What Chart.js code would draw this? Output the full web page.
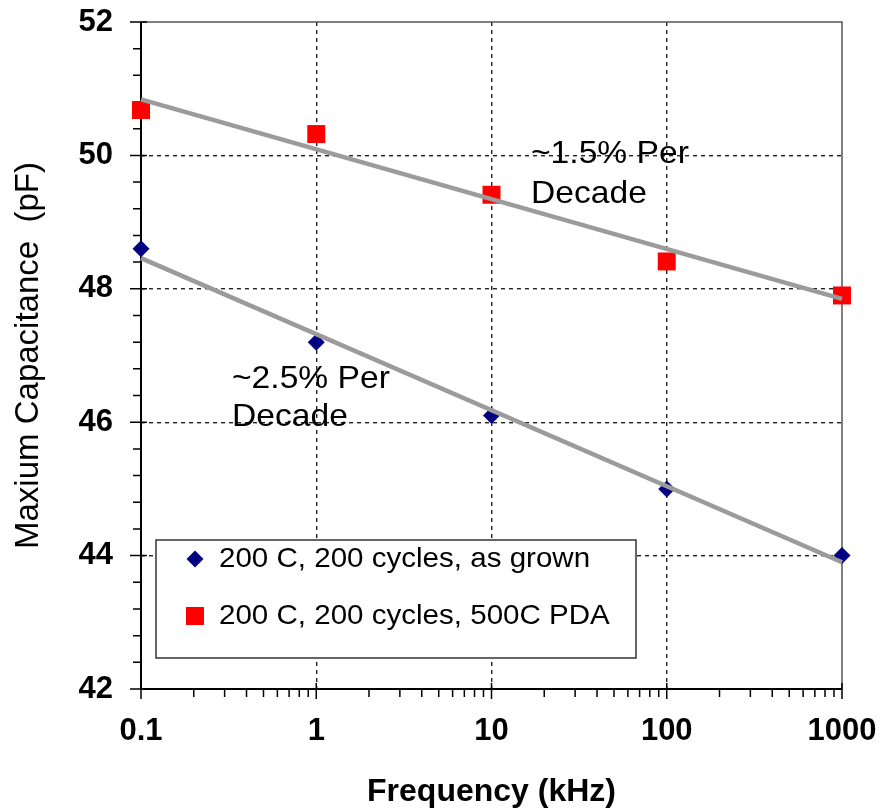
<!DOCTYPE html>
<html>
<head>
<meta charset="utf-8">
<title>Maximum capacitance vs frequency</title>
<script src="https://cdn.jsdelivr.net/npm/chart.js@4.4.1/dist/chart.umd.min.js"></script>
<style>
  html, body { margin: 0; padding: 0; background: #ffffff; }
  canvas { display: block; }
</style>
</head>
<body>
<canvas id="cap" width="881" height="811"></canvas>
<script>
// Measured maximum capacitance (pF) at each test frequency (kHz)
const frequencies = [0.1, 1, 10, 100, 1000];
const asGrown = [48.6, 47.2, 46.1, 45.0, 44.0];
const pda500 = [50.68, 50.32, 49.41, 48.41, 47.9];

// Straight-line fits (linear in log frequency), end points at the axis limits
const fitFreqs = [0.1, 1000];
const asGrownFit = [48.46, 43.9];
const pda500Fit = [50.84, 47.85];

const xTickLabels = [0.1, 1, 10, 100, 1000];
const yTickLabels = [42, 44, 46, 48, 50, 52];
const seriesNames = ['200 C, 200 cycles, as grown', '200 C, 200 cycles, 500C PDA'];
const slopeNotes = [['~1.5% Per', 'Decade'], ['~2.5% Per', 'Decade']];

const FONT = '"Liberation Sans", Arial, Helvetica, sans-serif';

// Layout of the hand-drawn legend box and the slope notes (canvas pixels)
const legendLayout = { left: 156, top: 540, right: 636, bottom: 658, markerX: 195, textX: 219, rows: [559, 616], size: 28, stretch: 1.055 };
const noteLayout = { size: 32, stretch: 1.05, items: [
  { x: 531, baselines: [163, 203] },
  { x: 232, baselines: [388, 426] }
] };

const isLabelled = (list, v) => list.some(l => Math.abs(l - v) < 1e-9);

const toPoints = (xs, ys) => xs.map((x, i) => ({ x, y: ys[i] }));

// Edge labels may overhang the plot; the outer layout padding leaves room for them
function noEdgePadding(scale) {
  scale.paddingTop = 0;
  scale.paddingBottom = 0;
  scale.paddingLeft = 0;
  scale.paddingRight = 0;
}

// Axis frame, tick marks
const framePlugin = {
  id: 'frame',
  beforeDatasetsDraw(chart) {
    const { ctx, chartArea: a, scales } = chart;
    const xs = scales.x, ys = scales.y;
    ctx.save();
    ctx.lineCap = 'butt';
    // top and right edges of the plot frame
    ctx.strokeStyle = '#555555';
    ctx.lineWidth = 1.5;
    ctx.beginPath();
    ctx.moveTo(a.left, a.top);
    ctx.lineTo(a.right, a.top);
    ctx.lineTo(a.right, a.bottom);
    ctx.stroke();
    // tick marks
    ctx.strokeStyle = '#000000';
    ctx.lineWidth = 1.5;
    ctx.beginPath();
    xs.ticks.forEach(t => {
      const px = xs.getPixelForValue(t.value);
      const major = isLabelled(xTickLabels, t.value);
      ctx.moveTo(px, a.bottom - (major ? 6 : 0));
      ctx.lineTo(px, a.bottom + (major ? 10 : 8));
    });
    ys.ticks.forEach(t => {
      const py = ys.getPixelForValue(t.value);
      const major = isLabelled(yTickLabels, t.value);
      ctx.moveTo(a.left + (major ? 6 : 0), py);
      ctx.lineTo(a.left - (major ? 11 : 8), py);
    });
    ctx.stroke();
    // left and bottom axis lines
    ctx.lineWidth = 2;
    ctx.beginPath();
    ctx.moveTo(a.left, a.top);
    ctx.lineTo(a.left, a.bottom);
    ctx.lineTo(a.right, a.bottom);
    ctx.stroke();
    ctx.restore();
  }
};

function drawMarker(ctx, style, radius, x, y) {
  ctx.beginPath();
  if (style === 'rect') {
    const h = radius * Math.SQRT1_2;
    ctx.rect(x - h, y - h, 2 * h, 2 * h);
  } else {
    ctx.moveTo(x - radius, y);
    ctx.lineTo(x, y - radius);
    ctx.lineTo(x + radius, y);
    ctx.lineTo(x, y + radius);
    ctx.closePath();
  }
  ctx.fill();
}

// Text drawn slightly widened horizontally from its left edge
function wideText(ctx, s, x, y, sx) {
  ctx.save();
  ctx.translate(x, y);
  ctx.scale(sx, 1);
  ctx.fillText(s, 0, 0);
  ctx.restore();
}

// Legend box and slope notes
const notesPlugin = {
  id: 'notes',
  afterDatasetsDraw(chart) {
    const { ctx } = chart;
    const L = legendLayout;
    ctx.save();
    ctx.fillStyle = '#ffffff';
    ctx.fillRect(L.left, L.top, L.right - L.left, L.bottom - L.top);
    ctx.strokeStyle = '#333333';
    ctx.lineWidth = 1.5;
    ctx.strokeRect(L.left, L.top, L.right - L.left, L.bottom - L.top);

    const marked = chart.data.datasets.filter(d => d.showInKey);
    marked.forEach((d, i) => {
      ctx.fillStyle = d.backgroundColor;
      drawMarker(ctx, d.pointStyle, d.pointRadius, L.markerX, L.rows[i]);
      ctx.fillStyle = '#000000';
      ctx.font = `${L.size}px ${FONT}`;
      ctx.textAlign = 'left';
      ctx.textBaseline = 'middle';
      wideText(ctx, d.label, L.textX, L.rows[i], L.stretch);
    });

    ctx.fillStyle = '#000000';
    ctx.font = `${noteLayout.size}px ${FONT}`;
    ctx.textAlign = 'left';
    ctx.textBaseline = 'alphabetic';
    slopeNotes.forEach((lines, i) => {
      const n = noteLayout.items[i];
      lines.forEach((s, j) => wideText(ctx, s, n.x, n.baselines[j], noteLayout.stretch));
    });
    ctx.restore();
  }
};

const tickFont = { family: FONT, size: 31, weight: 'bold' };

new Chart(document.getElementById('cap'), {
  type: 'scatter',
  data: {
    datasets: [
      {
        label: 'fit 500C PDA', type: 'line',
        data: toPoints(fitFreqs, pda500Fit),
        borderColor: '#9b9b9b', borderWidth: 4.5, pointRadius: 0,
        fill: false, order: 0, clip: false
      },
      {
        label: 'fit as grown', type: 'line',
        data: toPoints(fitFreqs, asGrownFit),
        borderColor: '#9b9b9b', borderWidth: 4.5, pointRadius: 0,
        fill: false, order: 0, clip: false
      },
      {
        label: seriesNames[0], showInKey: true,
        data: toPoints(frequencies, asGrown),
        pointStyle: 'rectRot', pointRadius: 8.5, pointHoverRadius: 8.5,
        backgroundColor: '#000080', borderWidth: 0, order: 1, clip: false
      },
      {
        label: seriesNames[1], showInKey: true,
        data: toPoints(frequencies, pda500),
        pointStyle: 'rect', pointRadius: 12.7, pointHoverRadius: 12.7,
        backgroundColor: '#ff0000', borderWidth: 0, order: 1, clip: false
      }
    ]
  },
  options: {
    responsive: false,
    animation: false,
    devicePixelRatio: 1,
    layout: { padding: { top: 22, right: 39, left: 0, bottom: 0 } },
    plugins: { legend: { display: false }, tooltip: { enabled: false } },
    scales: {
      x: {
        type: 'logarithmic',
        position: 'bottom',
        min: xTickLabels[0],
        max: xTickLabels[xTickLabels.length - 1],
        afterBuildTicks(scale) {
          const t = [];
          for (let i = 0; i < xTickLabels.length - 1; i++) {
            for (let m = 1; m <= 9; m++) t.push({ value: Number((xTickLabels[i] * m).toPrecision(6)) });
          }
          t.push({ value: xTickLabels[xTickLabels.length - 1] });
          scale.ticks = t;
        },
        afterFit(scale) { scale.height = 122; noEdgePadding(scale); },
        grid: {
          drawTicks: false,
          lineWidth: 1.4,
          color: c => (c.tick && isLabelled(xTickLabels.slice(1, -1), c.tick.value)) ? '#222222' : 'rgba(0,0,0,0)'
        },
        border: { display: false, dash: [4, 4] },
        ticks: {
          autoSkip: false, maxRotation: 0, minRotation: 0, padding: 24,
          color: '#000000', font: tickFont,
          callback: v => isLabelled(xTickLabels, v) ? String(v) : ''
        },
        title: {
          display: true, text: 'Frequency (kHz)', color: '#000000',
          font: { family: FONT, size: 32, weight: 'bold' },
          padding: { top: 0, bottom: 0 }
        }
      },
      y: {
        type: 'linear',
        min: yTickLabels[0],
        max: yTickLabels[yTickLabels.length - 1],
        afterBuildTicks(scale) {
          const t = [];
          const step = (yTickLabels[1] - yTickLabels[0]) / 5;
          const n = Math.round((scale.max - scale.min) / step);
          for (let k = 0; k <= n; k++) t.push({ value: Math.round((scale.min + k * step) * 1000) / 1000 });
          scale.ticks = t;
        },
        afterFit(scale) { scale.width = 141; noEdgePadding(scale); },
        grid: {
          drawTicks: false,
          lineWidth: 1.4,
          color: c => (c.tick && isLabelled(yTickLabels.slice(1, -1), c.tick.value)) ? '#222222' : 'rgba(0,0,0,0)'
        },
        border: { display: false, dash: [4, 4] },
        ticks: {
          autoSkip: false, padding: 28,
          color: '#000000', font: tickFont,
          callback: v => isLabelled(yTickLabels, v) ? String(Math.round(v)) : ''
        },
        title: {
          display: true, text: 'Maxium Capacitance  (pF)', color: '#000000',
          font: { family: FONT, size: 33, weight: 'normal' },
          padding: { top: 9, bottom: 0 }
        }
      }
    }
  },
  plugins: [framePlugin, notesPlugin]
});
</script>
</body>
</html>
